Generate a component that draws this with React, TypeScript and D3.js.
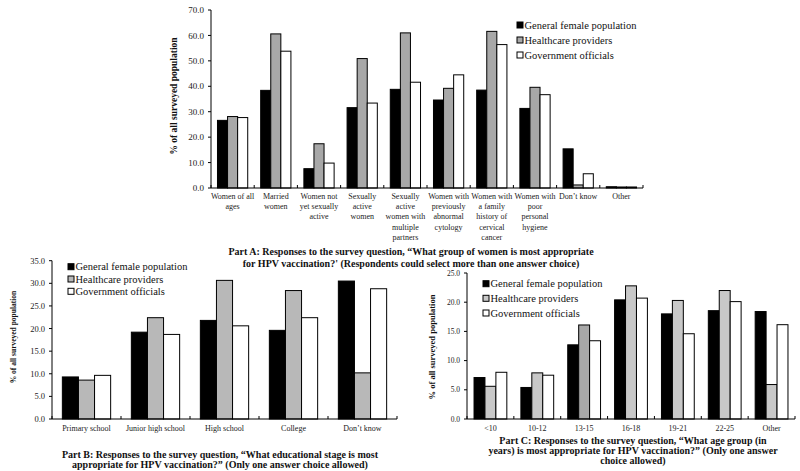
import React from "react";
import * as d3 from "d3";

// ---------- DATA ----------
const seriesNames = ["General female population", "Healthcare providers", "Government officials"];

const aCategories: string[][] = [
  ["Women of all", "ages"],
  ["Married", "women"],
  ["Women not", "yet sexually", "active"],
  ["Sexually", "active", "women"],
  ["Sexually", "active", "women with", "multiple", "partners"],
  ["Women with", "previously", "abnormal", "cytology"],
  ["Women with", "a family", "history of", "cervical", "cancer"],
  ["Women with", "poor", "personal", "hygiene"],
  ["Don\u2019t know"],
  ["Other"],
];
const aGeneral = [26.6, 38.4, 7.6, 31.6, 38.8, 34.6, 38.5, 31.3, 15.4, 0.5];
const aHealthcare = [28.1, 60.6, 17.4, 50.9, 61.0, 39.2, 61.6, 39.6, 1.2, 0.4];
const aGovernment = [27.7, 53.8, 9.8, 33.4, 41.6, 44.5, 56.4, 36.7, 5.6, 0.4];
const aTicks = [0, 10, 20, 30, 40, 50, 60, 70];
const aCaption = [
  "Part A: Responses to the survey question, \u201cWhat group of women is most appropriate",
  "for HPV vaccination?' (Respondents could select more than one answer choice)",
];

const bCategories: string[][] = [
  ["Primary school"],
  ["Junior high school"],
  ["High school"],
  ["College"],
  ["Don\u2019t know"],
];
const bGeneral = [9.3, 19.2, 21.8, 19.6, 30.5];
const bHealthcare = [8.6, 22.4, 30.65, 28.4, 10.2];
const bGovernment = [9.65, 18.7, 20.6, 22.4, 28.8];
const bTicks = [0, 5, 10, 15, 20, 25, 30, 35];
const bCaption = [
  "Part B: Responses to the survey question, \u201cWhat educational stage is most",
  "appropriate for HPV vaccination?\u201d (Only one answer choice allowed)",
];

const cCategories: string[][] = [["<10"], ["10-12"], ["13-15"], ["16-18"], ["19-21"], ["22-25"], ["Other"]];
const cGeneral = [7.1, 5.4, 12.7, 20.4, 18.0, 18.55, 18.4];
const cHealthcare = [5.6, 7.9, 16.1, 22.8, 20.3, 22.0, 5.9];
const cGovernment = [8.0, 7.5, 13.4, 20.7, 14.6, 20.1, 16.15];
const cTicks = [0, 5, 10, 15, 20, 25];
const cCaption = [
  "Part C: Responses to the survey question, \u201cWhat age group (in",
  "years) is most appropriate for HPV vaccination?\u201d (Only one answer",
  "choice allowed)",
];

// ---------- STYLE ----------
const FONT = "'Liberation Serif', 'Times New Roman', serif";

interface PanelProps {
  categories: string[][];
  series: number[][];
  ticks: number[];
  caption: string[];
  xLeft: number;
  xRight: number;
  yBase: number;
  yTop: number;
  grayColor: string;
  grayOverride?: Record<number, string>;
  legendX: number;
  legendRows: number[];
  yLabelX: number;
  yLabelY: number;
  yLabelSize: number;
  tickSize: number;
  catSize: number;
  catY: number;
  catLineH: number;
  captionX: number;
  captionY: number;
  captionLineH: number;
}

function Panel(p: PanelProps) {
  const x = d3
    .scaleBand<number>()
    .domain(d3.range(p.categories.length))
    .range([p.xLeft, p.xRight])
    .padding(0);
  const bw = x.bandwidth();
  const inner = d3
    .scaleBand<number>()
    .domain(d3.range(p.series.length))
    .range([bw * 0.15, bw * 0.85])
    .padding(0);
  const y = d3
    .scaleLinear()
    .domain([0, p.ticks[p.ticks.length - 1]])
    .range([p.yBase, p.yTop]);
  const fills = ["#000000", p.grayColor, "#ffffff"];
  const boundaries = d3.range(p.categories.length + 1).map((i) =>
    i < p.categories.length ? (x(i) as number) : p.xRight
  );

  return (
    <g>
      {p.series.map((vals, s) =>
        vals.map((v, i) => {
          let fill = fills[s];
          if (s === 1 && p.grayOverride && p.grayOverride[i]) fill = p.grayOverride[i];
          const bx = (x(i) as number) + (inner(s) as number);
          return (
            <rect
              key={`b${s}-${i}`}
              x={bx}
              y={y(v)}
              width={inner.bandwidth()}
              height={p.yBase - y(v)}
              fill={fill}
              stroke="#000"
              strokeWidth={1}
            />
          );
        })
      )}
      <line x1={p.xLeft} x2={p.xLeft} y1={p.yTop} y2={p.yBase} stroke="#000" strokeWidth={1} />
      {p.ticks.map((t) => (
        <g key={`yt${t}`}>
          <line x1={p.xLeft - 3} x2={p.xLeft} y1={y(t)} y2={y(t)} stroke="#000" strokeWidth={1} />
          <text
            x={p.xLeft - 7}
            y={y(t)}
            dy="0.35em"
            textAnchor="end"
            fontFamily={FONT}
            fontSize={p.tickSize}
            fill="#222"
          >
            {t.toFixed(1)}
          </text>
        </g>
      ))}
      <line x1={p.xLeft} x2={p.xRight} y1={p.yBase} y2={p.yBase} stroke="#000" strokeWidth={1} />
      {boundaries.map((bx, i) => (
        <line key={`xt${i}`} x1={bx} x2={bx} y1={p.yBase} y2={p.yBase - 3} stroke="#000" strokeWidth={1} />
      ))}
      {p.categories.map((lines, i) => (
        <text
          key={`c${i}`}
          x={(x(i) as number) + bw / 2}
          y={p.catY}
          textAnchor="middle"
          fontFamily={FONT}
          fontSize={p.catSize}
          fill="#222"
        >
          {lines.map((ln, j) => (
            <tspan key={j} x={(x(i) as number) + bw / 2} y={p.catY + j * p.catLineH}>
              {ln}
            </tspan>
          ))}
        </text>
      ))}
      <text
        transform={`translate(${p.yLabelX},${p.yLabelY}) rotate(-90)`}
        textAnchor="middle"
        dy="0.35em"
        fontFamily={FONT}
        fontWeight="bold"
        fontSize={p.yLabelSize}
        fill="#111"
      >
        % of all surveyed population
      </text>
      {seriesNames.map((name, s) => (
        <g key={`l${s}`}>
          <rect
            x={p.legendX}
            y={p.legendRows[s] - 3}
            width={6}
            height={6}
            fill={fills[s]}
            stroke="#000"
            strokeWidth={1}
          />
          <text
            x={p.legendX + 7.5}
            y={p.legendRows[s]}
            dy="0.35em"
            fontFamily={FONT}
            fontSize={10.5}
            fill="#111"
          >
            {name}
          </text>
        </g>
      ))}
      {p.caption.map((ln, j) => (
        <text
          key={`cap${j}`}
          x={p.captionX}
          y={p.captionY + j * p.captionLineH}
          textAnchor="middle"
          fontFamily={FONT}
          fontWeight="bold"
          fontSize={10}
          fill="#111"
        >
          {ln}
        </text>
      ))}
    </g>
  );
}

export default function App() {
  return (
    <svg
      width={800}
      height={471}
      viewBox="0 0 800 471"
      style={{ position: "absolute", left: 0, top: 0, background: "#fff" }}
    >
      <rect x={0} y={0} width={800} height={471} fill="#fff" />
      <Panel
        categories={aCategories}
        series={[aGeneral, aHealthcare, aGovernment]}
        ticks={aTicks}
        caption={aCaption}
        xLeft={211}
        xRight={643}
        yBase={188}
        yTop={10}
        grayColor="#a8a8a8"
        legendX={517}
        legendRows={[25, 40, 55]}
        yLabelX={174}
        yLabelY={96}
        yLabelSize={9.5}
        tickSize={9}
        catSize={8}
        catY={199}
        catLineH={10.2}
        captionX={411}
        captionY={254.5}
        captionLineH={12}
      />
      <Panel
        categories={bCategories}
        series={[bGeneral, bHealthcare, bGovernment]}
        ticks={bTicks}
        caption={bCaption}
        xLeft={52}
        xRight={397}
        yBase={419}
        yTop={260.7}
        grayColor="#b8b8b8"
        legendX={68}
        legendRows={[266.7, 279, 291.3]}
        yLabelX={13}
        yLabelY={337}
        yLabelSize={7.5}
        tickSize={8.5}
        catSize={8}
        catY={430.5}
        catLineH={10}
        captionX={220}
        captionY={457.5}
        captionLineH={10.5}
      />
      <Panel
        categories={cCategories}
        series={[cGeneral, cHealthcare, cGovernment]}
        ticks={cTicks}
        caption={cCaption}
        xLeft={467}
        xRight={795}
        yBase={419}
        yTop={273}
        grayColor="#c8c8c8"
        grayOverride={{ 2: "#a8a8a8" }}
        legendX={483}
        legendRows={[283.7, 298.3, 313]}
        yLabelX={431.7}
        yLabelY={347}
        yLabelSize={8.5}
        tickSize={7.5}
        catSize={8}
        catY={430.5}
        catLineH={10}
        captionX={633}
        captionY={443.5}
        captionLineH={10}
      />
    </svg>
  );
}
